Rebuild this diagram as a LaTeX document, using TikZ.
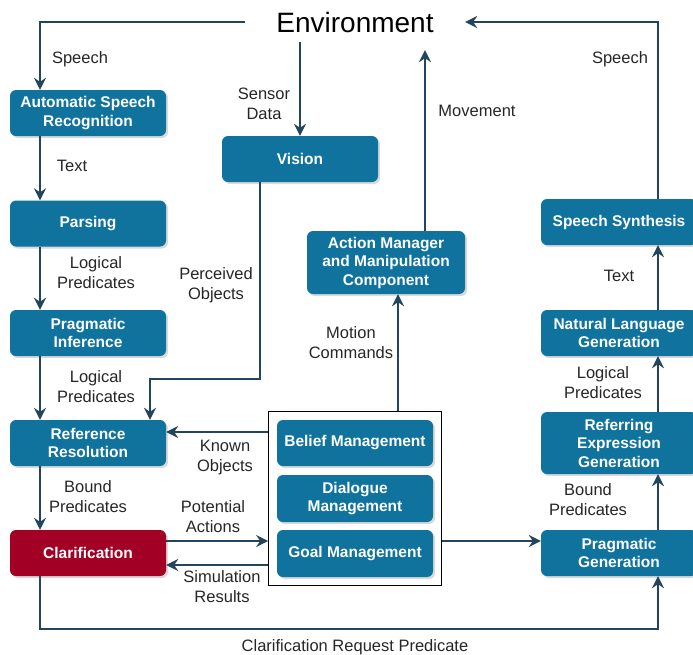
\documentclass[tikz,border=0pt]{standalone}
\usepackage{fontspec}
\setmainfont{Liberation Sans}
\usetikzlibrary{arrows.meta,calc,fit,shadows}
\definecolor{modblue}{HTML}{10739E}
\definecolor{modred}{HTML}{A20025}
\definecolor{flowline}{HTML}{23445D}
\tikzset{
	module/.style={rectangle,rounded corners=6pt,fill=modblue,text=white,font=\fontsize{15.5}{18.5}\selectfont\bfseries,align=center,inner sep=0pt,minimum width=156pt,minimum height=46pt,drop shadow={shadow xshift=2pt,shadow yshift=-2pt,opacity=0.3}},
	flow/.style={draw=flowline,line width=2.4pt,-{Stealth[length=12pt,width=12pt,inset=4pt]}},
	lbl/.style={align=center,font=\fontsize{16.5}{20}\selectfont,text=black!85}
}
\newcommand{\modulebox}[4][]{\node[module,#1] at (#2) (#3) {#4}}
\newcommand{\flowlbl}[3]{\node[lbl] at (#1) (#2) {#3}}

\begin{document}
\begin{tikzpicture}[x=1pt,y=-1pt]
				\useasboundingbox (0,0) rectangle (693,654);
				\node[font=\fontsize{28}{32}\selectfont,minimum width=220pt,minimum height=40pt,inner sep=0pt] at (355,22) (env) {Environment};
				
				% understanding side
				\modulebox{88,113}{asr}{Automatic Speech\\Recognition};
				\modulebox{88,223.5}{parse}{Parsing};
				\modulebox{88,333}{prinf}{Pragmatic\\Inference};
				\modulebox{88,443}{ref}{Reference\\Resolution};
				\modulebox[fill=modred]{88,553}{clar}{Clarification};
				\modulebox{300,159}{vision}{Vision};
				\modulebox[minimum width=158pt,minimum height=63pt]{386,262.5}{act}{Action Manager\\and Manipulation\\Component};
				
				% core
				\modulebox{355,443}{belief}{Belief Management};
				\modulebox[minimum height=47pt]{355,498.5}{dialog}{Dialogue\\Management};
				\modulebox[minimum height=47pt]{355,553.5}{goal}{Goal Management};
				\node[draw=black,line width=1.3pt,inner sep=8pt,fit=(belief)(goal)] (panel) {};
				
				% generation side
				\modulebox{619,222}{synth}{Speech Synthesis};
				\modulebox{619,333}{nlg}{Natural Language\\Generation};
				\modulebox[minimum height=62pt]{619,443}{reg}{Referring\\Expression\\Generation};
				\modulebox{619,553}{prgen}{Pragmatic\\Generation};
				
				\draw[flow] (env.west) -| ([xshift=-48pt]asr.north);
				\draw[flow] (vision.north |- env.south) -- (vision.north);
				\draw[flow] ([xshift=-48pt]asr.south) -- ([xshift=-48pt]parse.north);
				\draw[flow] ([xshift=-48pt]parse.south) -- ([xshift=-48pt]prinf.north);
				\draw[flow] ([xshift=-48pt]prinf.south) -- ([xshift=-48pt]ref.north);
				\draw[flow] ([xshift=-48pt]ref.south) -- ([xshift=-48pt]clar.north);
				\draw[flow] ([xshift=-40pt]vision.south) -- ++(0,197) -| ([xshift=62pt]ref.north);
				\draw[flow] ($(ref.east -| panel.west)+(0,-11)$) -- ($(ref.east)+(0,-11)$);
				\draw[flow] ($(clar.east)+(0,-12)$) -- ($(clar.east -| panel.west)+(0,-12)$);
				\draw[flow] ($(clar.east -| panel.west)+(0,12)$) -- ($(clar.east)+(0,12)$);
				\draw[flow] ([xshift=12pt]act.south |- panel.north) -- ([xshift=12pt]act.south);
				\draw[flow,shorten >=8pt] ([xshift=39pt]act.north) -- ([xshift=39pt]act.north |- env.south);
				\draw[flow] ($(prgen.west -| panel.east)+(0,-12)$) -- ($(prgen.west)+(0,-12)$);
				\draw[flow] ([xshift=39pt]prgen.north) -- ([xshift=39pt]reg.south);
				\draw[flow] ([xshift=39pt]reg.north) -- ([xshift=39pt]nlg.south);
				\draw[flow] ([xshift=39pt]nlg.north) -- ([xshift=39pt]synth.south);
				\draw[flow] ([xshift=39pt]synth.north) |- (env.east);
				\draw[flow] ([xshift=-48pt]clar.south) -- ++(0,53) -| ([xshift=39pt]prgen.south);
				
				\flowlbl{80,59}{l-speech}{Speech};
				\flowlbl{264,104}{l-sensor}{Sensor\\Data};
				\flowlbl{72,166}{l-text}{Text};
				\flowlbl{96,273}{l-logic1}{Logical\\Predicates};
				\flowlbl{216,285}{l-perc}{Perceived\\Objects};
				\flowlbl{96,387}{l-logic2}{Logical\\Predicates};
				\flowlbl{225,458}{l-known}{Known\\Objects};
				\flowlbl{88,497}{l-bound1}{Bound\\Predicates};
				\flowlbl{213,517}{l-pot}{Potential\\Actions};
				\flowlbl{222,587}{l-sim}{Simulation\\Results};
				\flowlbl{355,647}{l-clreq}{Clarification Request Predicate};
				\flowlbl{351,343}{l-motion}{Motion\\Commands};
				\flowlbl{477,111}{l-move}{Movement};
				\flowlbl{620,59}{l-speech2}{Speech};
				\flowlbl{619,276}{l-text2}{Text};
				\flowlbl{603,383}{l-logic3}{Logical\\Predicates};
				\flowlbl{588,500}{l-bound2}{Bound\\Predicates};
				
				\end{tikzpicture}
\end{document}
